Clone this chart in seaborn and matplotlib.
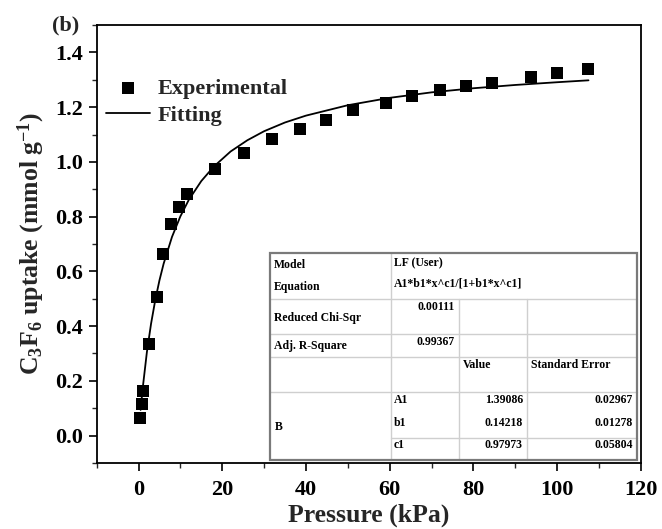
import matplotlib
matplotlib.use("Agg")
import matplotlib.pyplot as plt
from matplotlib.ticker import MultipleLocator
from matplotlib.patches import Rectangle
import seaborn as sns
import pandas as pd

# ---------------- data ----------------
pressure = [0.36, 0.77, 1.08, 2.58, 4.35, 5.86, 7.77, 9.68, 11.67, 18.3, 25.2,
            31.9, 38.5, 44.8, 51.3, 59.2, 65.4, 72.1, 78.3, 84.5, 93.8, 100.0, 107.5]
uptake = [0.065, 0.116, 0.163, 0.335, 0.507, 0.662, 0.773, 0.836, 0.884, 0.973, 1.033,
          1.084, 1.12, 1.153, 1.189, 1.215, 1.24, 1.262, 1.276, 1.29, 1.309, 1.324, 1.338]

fit_pressure = [0.5, 1, 2, 3, 4, 5, 6, 8, 10, 12, 15, 18, 22, 26, 30, 35, 40,
                50, 60, 70, 80, 90, 100, 107.5]
fit_uptake = [0.094, 0.173, 0.305, 0.409, 0.495, 0.567, 0.628, 0.726, 0.801, 0.861,
              0.930, 0.983, 1.038, 1.079, 1.112, 1.144, 1.169, 1.207, 1.234, 1.254,
              1.269, 1.281, 1.291, 1.298]

x_ticks = [0, 20, 40, 60, 80, 100, 120]
y_ticks = [0.0, 0.2, 0.4, 0.6, 0.8, 1.0, 1.2, 1.4]

table_rows_left = ["Model", "Equation", "Reduced Chi-Sqr", "Adj. R-Square", "B"]
model_name = "LF (User)"
equation = "A1*b1*x^c1/[1+b1*x^c1]"
chi_sqr = "0.00111"
r_square = "0.99367"
col_heads = ["Value", "Standard Error"]
params = ["A1", "b1", "c1"]
param_values = ["1.39086", "0.14218", "0.97973"]
param_errors = ["0.02967", "0.01278", "0.05804"]

exp_df = pd.DataFrame({"Pressure": pressure, "Uptake": uptake})
fit_df = pd.DataFrame({"Pressure": fit_pressure, "Uptake": fit_uptake})

# ---------------- style ----------------
sns.set_style("ticks")
plt.rcParams["font.family"] = ["Liberation Serif", "DejaVu Serif"]
plt.rcParams["font.weight"] = "bold"
plt.rcParams["mathtext.fontset"] = "custom"
plt.rcParams["mathtext.rm"] = "Liberation Serif:bold"
plt.rcParams["mathtext.it"] = "Liberation Serif:bold:italic"
plt.rcParams["mathtext.bf"] = "Liberation Serif:bold"

fig = plt.figure(figsize=(6.62, 5.29), dpi=100)
ax = fig.add_axes([0.146, 0.1248, 0.822, 0.8279])

sns.lineplot(data=fit_df, x="Pressure", y="Uptake", ax=ax, color="black",
             linewidth=1.3, sort=False, estimator=None, label="Fitting", zorder=2)
sns.scatterplot(data=exp_df, x="Pressure", y="Uptake", ax=ax, color="black",
                marker="s", s=85, linewidth=0, label="Experimental", zorder=3)

ax.set_xlim(-10, 120)
ax.set_ylim(-0.1, 1.5)
ax.set_xticks(x_ticks)
ax.set_yticks(y_ticks)
ax.set_yticklabels([f"{v:.1f}" for v in y_ticks])
ax.xaxis.set_minor_locator(MultipleLocator(10))
ax.yaxis.set_minor_locator(MultipleLocator(0.1))
ax.tick_params(which="major", direction="out", length=6, width=1.2, labelsize=16,
               pad=4, colors="black")
ax.tick_params(axis="x", which="major", pad=6)
ax.tick_params(which="minor", direction="out", length=3.5, width=1.0)
ax.tick_params(top=False, right=False, which="both")
for lab in ax.get_xticklabels() + ax.get_yticklabels():
    lab.set_fontweight("bold")
for sp in ax.spines.values():
    sp.set_linewidth(1.3)
    sp.set_color("black")

ax.set_xlabel("Pressure (kPa)", fontsize=18.5, fontweight="bold", labelpad=3)
ax.set_ylabel(r"C$_3$F$_6$ uptake (mmol g$^{-1}$)", fontsize=18.5,
              fontweight="bold", labelpad=6)

handles, labels = ax.get_legend_handles_labels()
order = [labels.index("Experimental"), labels.index("Fitting")]
leg = ax.legend([handles[i] for i in order], [labels[i] for i in order],
                loc="upper left", bbox_to_anchor=(106 / 662, 1 - 78 / 529),
                bbox_transform=fig.transFigure, frameon=False, borderpad=0,
                borderaxespad=0, handlelength=2.0, handletextpad=0.3,
                labelspacing=0.3, prop={"size": 16, "weight": "bold"})

fig.text(52 / 662, 1 - 25 / 529, "(b)", ha="left", va="center", fontsize=16,
         fontweight="bold")

# ---------------- inset table ----------------
tab = ax.inset_axes([0.3184, 0.00685, 0.6743, 0.4726])
tab.set_xlim(270, 637)
tab.set_ylim(460, 253)
tab.axis("off")
tab.add_patch(Rectangle((270, 253), 367, 207, facecolor="white", edgecolor="none",
                        zorder=0, clip_on=False))
grid_c = "#cfcfcf"
for yy, x0 in [(299, 270), (334, 270), (357, 270), (392, 270), (438, 391)]:
    tab.plot([x0, 637], [yy, yy], color=grid_c, lw=1.0, clip_on=False)
for xx, y0 in [(391, 253), (459, 299), (527, 299)]:
    tab.plot([xx, xx], [y0, 460], color=grid_c, lw=1.0, clip_on=False)
tab.add_patch(Rectangle((270, 253), 367, 207, facecolor="none", edgecolor="#7a7a7a",
                        lw=1.6, zorder=5, clip_on=False))

fs = 8.5
tkw = dict(fontsize=fs, fontweight="bold", va="center", color="black")
tab.text(274, 265, table_rows_left[0], ha="left", **tkw)
tab.text(274, 287, table_rows_left[1], ha="left", **tkw)
tab.text(394, 263, model_name, ha="left", **tkw)
tab.text(394, 284, equation, ha="left", **tkw)
tab.text(274, 318, table_rows_left[2], ha="left", **tkw)
tab.text(455, 307, chi_sqr, ha="right", **tkw)
tab.text(274, 346, table_rows_left[3], ha="left", **tkw)
tab.text(455, 342, r_square, ha="right", **tkw)
tab.text(463, 365, col_heads[0], ha="left", **tkw)
tab.text(531, 365, col_heads[1], ha="left", **tkw)
tab.text(275, 427, table_rows_left[4], ha="left", **tkw)
for p, v, e, yy in zip(params, param_values, param_errors, [400, 423, 445]):
    tab.text(394, yy, p, ha="left", **tkw)
    tab.text(523, yy, v, ha="right", **tkw)
    tab.text(633, yy, e, ha="right", **tkw)

fig.savefig("out.png", dpi=100)
